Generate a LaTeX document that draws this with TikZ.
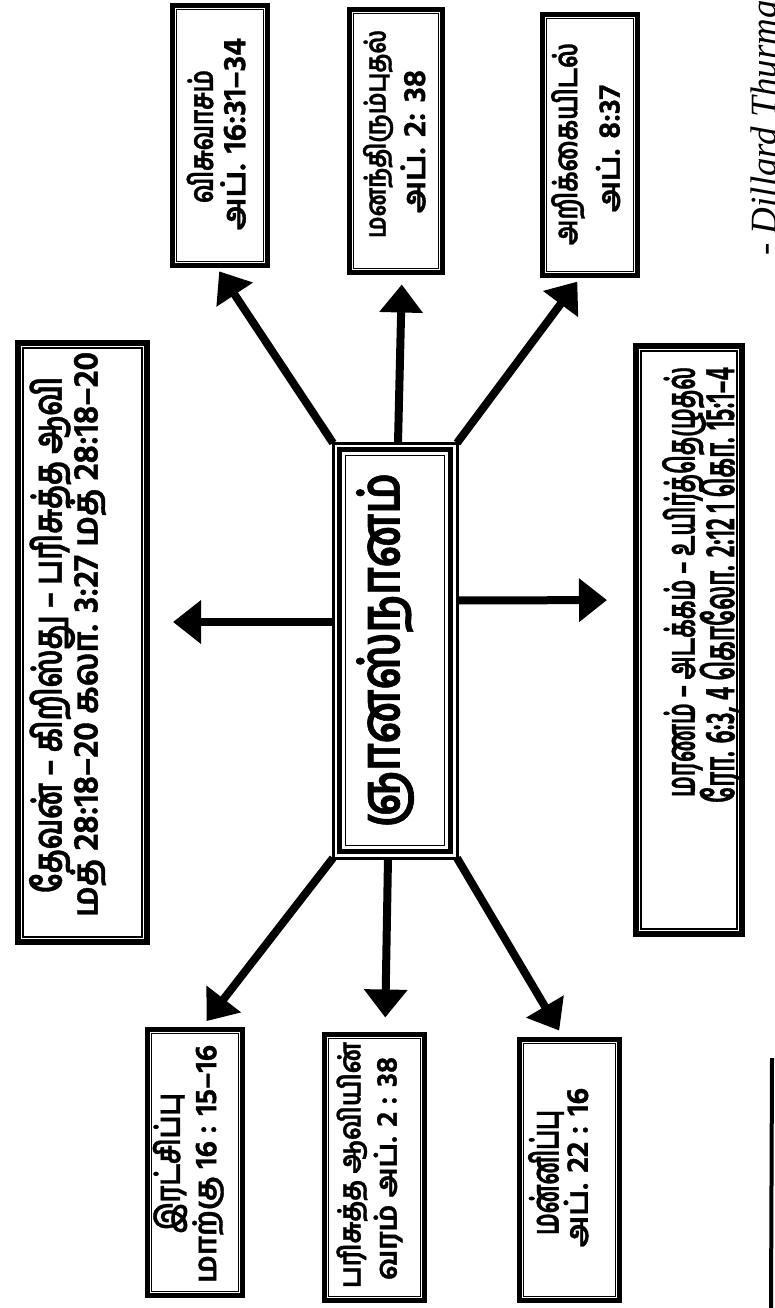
\documentclass[tikz,border=0pt]{standalone}
\usepackage{fontspec}
\newfontfamily\tamil[Script=Tamil, BoldFeatures={FakeBold=1.2}]{Hind Madurai}
\newfontfamily\authfont{Liberation Serif}
\usetikzlibrary{arrows.meta}
\newcommand\tfit[3]{\scalebox{1}[#2]{\resizebox{#1pt}{!}{#3}}}
\tikzset{
  sbox/.style={draw, fill=white, line width=5pt, inner sep=0pt},
  bbox/.style={draw, fill=white, line width=6pt, inner sep=0pt},
  innerline/.style={line width=1.4pt},
  lbl/.style={rotate=90, inner sep=0pt, font=\tamil\bfseries\fontsize{20}{24}\selectfont},
  arr/.style={line width=8pt, -{Triangle[length=28pt,width=42pt]}},
  author/.style={rotate=90, inner sep=0pt, anchor=base west, font=\authfont\itshape\fontsize{37}{40}\selectfont}
}
\begin{document}
\begin{tikzpicture}[x=1pt,y=-1pt]
\useasboundingbox (0,0) rectangle (774,1308);
\clip (0,0) rectangle (774,1308);
\fill[white] (0,0) rectangle (774,1308);

% boxes (named nodes)
\node[sbox, minimum width=95pt, minimum height=260pt] (b1) at (220,135.5) {};
\node[sbox, minimum width=93pt, minimum height=263pt] (b2) at (396,141) {};
\node[sbox, minimum width=95pt, minimum height=261pt] (b3) at (590,145) {};
\node[sbox, minimum width=95pt, minimum height=266pt] (d1) at (195,1162.5) {};
\node[sbox, minimum width=100pt, minimum height=266pt] (d2) at (374.5,1167.5) {};
\node[sbox, minimum width=100pt, minimum height=261pt] (d3) at (569.5,1170) {};
\node[bbox, minimum width=129pt, minimum height=599pt] (L) at (82.5,642.5) {};
\node[bbox, minimum width=106pt, minimum height=588pt] (R) at (689,640) {};
\node[draw, line width=3pt, inner sep=0pt, minimum width=121pt, minimum height=412pt] (c) at (395,650.5) {};

% arrows
\draw[arr, shorten >=4pt] (c.north west) -- ([xshift=-3pt]b1.south);
\draw[arr, shorten >=9.5pt] ([xshift=3pt]c.north) -- ([xshift=6pt]b2.south);
\draw[arr, shorten >=4.5pt] (c.north east) -- ([xshift=-10pt]b3.south);
\draw[arr, shorten >=23pt] ([yshift=28.5pt]c.west) -- ([yshift=20.5pt]L.east);
\draw[arr, shorten >=26pt] ([yshift=50pt]c.east) -- ([yshift=40pt]R.west);
\draw[arr, shorten >=7.5pt] (c.south west) -- ([xshift=7pt]d1.north);
\draw[arr, shorten >=14.5pt] ([xshift=-7pt]c.south) -- ([xshift=10.5pt]d2.north);
\draw[arr, shorten >=7.5pt] (c.south east) -- ([xshift=-6.5pt]d3.north);

% centre frame on top of arrow starts
\fill[white] (c.north west) rectangle (c.south east);
\draw[line width=3pt] (c.north west) rectangle (c.south east);
\draw[line width=5.5pt] ([shift={(6.5pt,-6.5pt)}]c.north west) rectangle ([shift={(-6.5pt,6.5pt)}]c.south east);
\draw[innerline] ([shift={(12.5pt,-12.5pt)}]c.north west) rectangle ([shift={(-12.5pt,12.5pt)}]c.south east);

% inner thin frames
\foreach \n in {b1,b2,b3,d1,d2,d3}
  \draw[innerline] ([shift={(6.5pt,-6.5pt)}]\n.north west) rectangle ([shift={(-6.5pt,6.5pt)}]\n.south east);
\foreach \n in {L,R}
  \draw[innerline] ([shift={(8pt,-8pt)}]\n.north west) rectangle ([shift={(-8pt,8pt)}]\n.south east);

% texts
\node[lbl] (ct) at (385,650) {\tfit{354}{1.25}{ஞானஸ்நானம்}};
\node[lbl] (b1a) at (200,136.5) {\tfit{133}{1.33}{விசுவாசம்}};
\node[lbl] (b1b) at (233,134) {\tfit{192}{1.0}{அப். 16:31–34}};
\node[lbl] (b2a) at (378,134) {\tfit{208}{1.2}{மனந்திரும்புதல்}};
\node[lbl] (b2b) at (413,141.5) {\tfit{143}{1.0}{அப். 2: 38}};
\node[lbl] (b3a) at (568,144) {\tfit{202}{1.3}{அறிக்கையிடல்}};
\node[lbl] (b3b) at (608,148.5) {\tfit{127}{1.0}{அப். 8:37}};
\node[lbl] (d1a) at (170,1163) {\tfit{140}{1.25}{இரட்சிப்பு}};
\node[lbl] (d1b) at (208,1164) {\tfit{238}{1.0}{மாற்கு 16 : 15–16}};
\node[lbl] (d2a) at (352,1165) {\tfit{246}{1.15}{பரிசுத்த ஆவியின்}};
\node[lbl] (d2b) at (388,1168.5) {\tfit{223}{1.0}{வரம் அப். 2 : 38}};
\node[lbl] (d3a) at (546,1172.5) {\tfit{125}{1.6}{மன்னிப்பு}};
\node[lbl] (d3b) at (576,1167.5) {\tfit{159}{1.0}{அப். 22 : 16}};
\node[lbl] (La) at (52,635) {\tfit{516}{1.35}{தேவன் – கிறிஸ்து – பரிசுத்த ஆவி}};
\node[lbl] (Lb) at (88,634.5) {\tfit{565}{1.05}{மத் 28:18–20 கலா. 3:27 மத் 28:18–20}};
\node[lbl] (Ra) at (684,582) {\tfit{430}{1.75}{மரணம் – அடக்கம் – உயிர்த்தெழுதல்}};
\node[lbl] (Rb) at (721,585) {\tfit{436}{1.75}{ரோ. 6:3, 4 கொலோ. 2:12 1 கொ. 15:1–4}};

% author and edge line
\node[author] (auth) at (776,256) {- Dillard Thurman};
\draw[line width=4pt] (772,1058) -- (771,1308);
\end{tikzpicture}
\end{document}
